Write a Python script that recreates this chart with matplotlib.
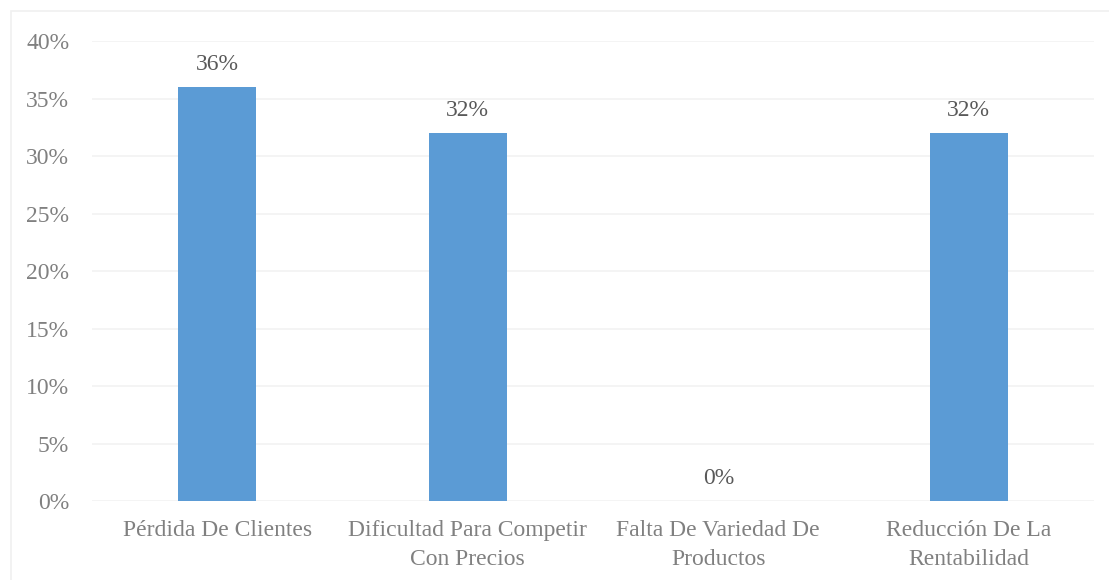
import matplotlib.pyplot as plt
from matplotlib.patches import Rectangle

plt.rcParams['font.family'] = ['Liberation Serif', 'DejaVu Serif']

# Causes and their share of responses (%)
categories = ['Pérdida De Clientes', 'Dificultad Para Competir\nCon Precios',
              'Falta De Variedad De\nProductos', 'Reducción De La\nRentabilidad']
shares = [36, 32, 0, 32]
y_ticks = [0, 5, 10, 15, 20, 25, 30, 35, 40]

fig = plt.figure(figsize=(11.09, 5.8), dpi=100)
ax = fig.add_axes([0.083, 0.1362, 0.9035, 0.7931])

# light chart-area frame
fig.patches.append(Rectangle((11 / 1109, -0.1), 1.2, 1 - 11 / 580 + 0.1,
                             transform=fig.transFigure, fill=False,
                             edgecolor='#F0F0F0', linewidth=1.2))

x = range(len(categories))
bars = ax.bar(x, shares, width=0.31, color='#5B9BD5', zorder=2)

for b, v in zip(bars, shares):
    ax.annotate(f'{v}%', (b.get_x() + b.get_width() / 2, v),
                xytext=(0, 16), textcoords='offset points',
                ha='center', va='center', fontsize=17, color='#595959')

ax.set_xlim(-0.5, len(categories) - 0.5)
ax.set_ylim(0, 40)
ax.set_yticks(y_ticks)
ax.set_yticklabels([f'{t}%' for t in y_ticks])
ax.set_xticks(list(x))
ax.set_xticklabels(categories, linespacing=1.45)
ax.tick_params(axis='both', length=0, labelsize=17, labelcolor='#808080')
ax.tick_params(axis='y', pad=16.5)
ax.tick_params(axis='x', pad=14)

ax.grid(axis='y', color='#F2F2F2', linewidth=1.2, zorder=0)
ax.set_axisbelow(True)
for s in ax.spines.values():
    s.set_visible(False)

fig.savefig('out.png', dpi=100)
